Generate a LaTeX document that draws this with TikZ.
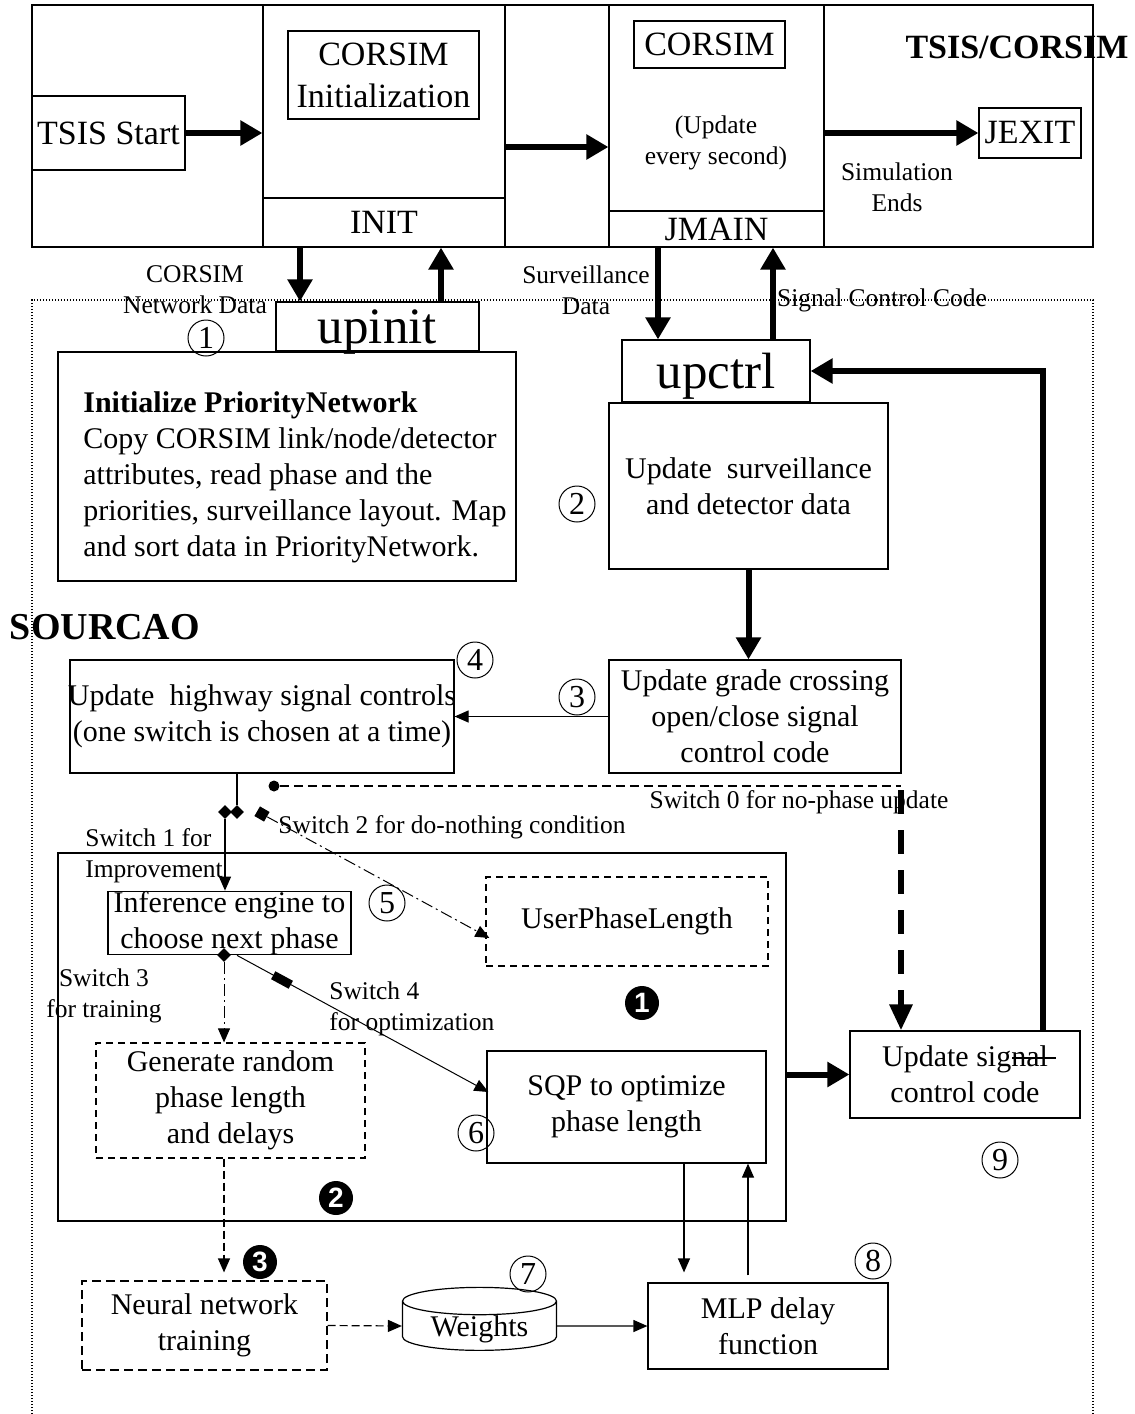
\documentclass[tikz,border=0pt]{standalone}
\usepackage{fontspec}
\setmainfont{Liberation Serif}
\setsansfont{Liberation Sans}
\usetikzlibrary{arrows.meta,shapes.geometric}
\newcommand{\hugetxt}{\fontsize{25.5}{28}\selectfont}
\newcommand{\bigtxt}{\fontsize{17}{21}\selectfont}
\newcommand{\bodytxt}{\fontsize{15}{18}\selectfont}
\newcommand{\smalltxt}{\fontsize{12.75}{15.5}\selectfont}
\begin{document}
\begin{tikzpicture}[x=0.5pt, y=-0.5pt,
  box/.style={draw, line width=0.6pt, inner sep=0pt, align=center},
  dbox/.style={box, dash pattern=on 3.5pt off 2.5pt},
  lbl/.style={inner sep=0pt, align=center, font=\smalltxt},
  numc/.style={circle, draw, line width=0.5pt, inner sep=0pt, minimum size=18pt, font=\fontsize{16}{16}\selectfont},
  numb/.style={circle, fill=black, text=white, inner sep=0pt, minimum size=17pt, font=\sffamily\bfseries\fontsize{14}{14}\selectfont},
  swmark/.style={diamond, fill=black, inner sep=0pt, minimum size=7pt},
  bigarrow/.style={line width=3pt, -{Triangle[length=11pt,width=12pt]}},
  thinarrow/.style={line width=0.6pt, -{Triangle[length=7pt,width=6pt]}},
  dasharrow/.style={thinarrow, dash pattern=on 4pt off 2pt},
  dotarrow/.style={line width=0.5pt, dash pattern=on 6pt off 2pt on 1pt off 2pt, -{Triangle[length=7pt,width=6pt]}}]
\useasboundingbox (0,0) rectangle (1135,1414);

\draw[line width=0.6pt, dash pattern=on 0.6pt off 0.9pt] (32,1414) -- (32,300) -- (1093,300) -- (1093,1414);

\node[box, minimum width=530.5pt, minimum height=121pt] (tsisframe) at (562.5,126) {};
\node[box, minimum width=121pt, minimum height=121pt] (initcol) at (384,126) {};
\node[box, minimum width=107.5pt, minimum height=121pt] (maincol) at (716.5,126) {};
\node[box, minimum width=121pt, minimum height=24.5pt, text depth=0pt, font=\bigtxt] (initbar) at (384,222.5) {INIT};
\node[box, minimum width=107.5pt, minimum height=18pt, text depth=0pt, font=\bigtxt] (jmain) at (716.5,229) {JMAIN};
\node[box, minimum width=76.5pt, minimum height=37pt, font=\bigtxt] (tsisstart) at (108.5,133) {TSIS Start};
\node[box, minimum width=95.5pt, minimum height=44pt, font=\bigtxt] (corsiminit) at (383.5,75) {CORSIM\\Initialization};
\node[box, minimum width=75.5pt, minimum height=23.5pt, font=\bigtxt] (corsimrun) at (709.5,44.5) {CORSIM};
\node[lbl] (everysec) at (716,143) {(Update\\every second)};
\node[box, minimum width=51pt, minimum height=25pt, font=\bigtxt] (jexit) at (1030,133) {JEXIT};
\node[lbl] (simends) at (897,187) {Simulation\\Ends};
\node[inner sep=0pt, font=\bigtxt\bfseries] (tsistitle) at (1017,47) {TSIS/CORSIM};

\draw[bigarrow] (tsisstart.east) -- (tsisstart.east -| initcol.west);
\draw[bigarrow] ([yshift=-10.5pt]initcol.east) -- ([yshift=-10.5pt]maincol.west);
\draw[bigarrow] (jexit.west -| maincol.east) -- (jexit.west);

\node[box, minimum width=101.5pt, minimum height=24.5pt, text depth=0pt, font=\hugetxt] (upinit) at (377.5,326.5) {upinit};
\node[box, minimum width=94pt, minimum height=31pt, text depth=0pt, font=\hugetxt] (upctrl) at (716,371) {upctrl};

\draw[bigarrow] ([xshift=-42pt]initbar.south) -- ([xshift=-38.75pt]upinit.north);
\draw[bigarrow] ([xshift=31.75pt]upinit.north) -- ([xshift=28.5pt]initbar.south);
\draw[bigarrow] ([xshift=-29.25pt]jmain.south) -- ([xshift=-29pt]upctrl.north);
\draw[bigarrow] ([xshift=28.5pt]upctrl.north) -- ([xshift=28.25pt]jmain.south);

\node[lbl] (netdata) at (195,290) {CORSIM\\Network Data};
\node[lbl] (survdata) at (586,290) {Surveillance\\Data};
\node[lbl] (sigcode) at (882,300) {Signal Control Code};

\node[box, minimum width=229pt, minimum height=114.5pt] (initbox) at (287,466.5) {};
\node[inner sep=0pt, align=left, font=\bodytxt] (inittxt) at (295,477) {\textbf{Initialize PriorityNetwork}\\Copy CORSIM link/node/detector\\attributes, read phase and the\\priorities, surveillance layout. Map\\and sort data in PriorityNetwork.};
\node[box, minimum width=139.5pt, minimum height=83pt, font=\bodytxt] (survbox) at (748.5,486) {Update\ \ surveillance\\and detector data};
\node[box, minimum width=146pt, minimum height=56.5pt, font=\bodytxt] (gradebox) at (755,716.5) {Update grade crossing\\open/close signal\\control code};
\node[box, minimum width=192pt, minimum height=56.5pt, inner xsep=-2pt, font=\bodytxt] (highway) at (262,716.5) {Update\ \ highway signal controls\\(one switch is chosen at a time)};
\node[inner sep=0pt, font=\fontsize{19}{22}\selectfont\bfseries] (sourcao) at (105,627) {SOURCAO};

\draw[bigarrow] (survbox.south) -- (survbox.south |- gradebox.north);
\draw[thinarrow] (gradebox.west) -- (gradebox.west -| highway.east);

\node[box, minimum width=364pt, minimum height=184pt] (optframe) at (422,1037) {};
\node[box, minimum width=121.5pt, minimum height=31pt, font=\bodytxt] (infer) at (229.5,923) {Inference engine to\\choose next phase};
\node[dbox, minimum width=141pt, minimum height=44.5pt, font=\bodytxt] (userbox) at (627,921.5) {UserPhaseLength};
\node[dbox, minimum width=134.5pt, minimum height=57.5pt, font=\bodytxt] (genbox) at (230.5,1100.5) {Generate random\\phase length\\and delays};
\node[box, minimum width=139.5pt, minimum height=56pt, font=\bodytxt] (sqp) at (626.5,1107) {SQP to optimize\\phase length};
\node[box, minimum width=115pt, minimum height=43.5pt, font=\bodytxt] (updsig) at (965,1074.5) {Update signal\\control code};
\node[box, minimum width=120pt, minimum height=43pt, font=\bodytxt] (mlp) at (768,1326) {MLP delay\\function};
\node[box, dash pattern=on 4.5pt off 2.5pt, minimum width=122.5pt, minimum height=44.5pt, font=\bodytxt] (neural) at (204.5,1325.5) {Neural network\\training};
\node[cylinder, shape border rotate=90, aspect=0.28, draw, line width=0.6pt, inner sep=0pt, text depth=0pt, minimum width=77pt, minimum height=31.5pt, font=\bodytxt] (weights) at (479.5,1326) {Weights};
\draw[line width=0.6pt] (1012,1058) -- (1056,1058);

\node[swmark] (swd1) at (225,812) {};
\node[swmark] (swd2) at (237,812) {};
\node[circle, fill=black, inner sep=0pt, minimum size=5.5pt] (sw0) at (274,786) {};
\node[swmark, minimum size=8pt, rotate=15] (sw2) at (262,814) {};
\node[swmark] (swd3) at (224,955) {};
\node[fill=black, inner sep=0pt, minimum width=10pt, minimum height=4.5pt, rotate=-28.5] (sw4) at (282,980) {};
\coordinate (sw0end) at ([xshift=-32pt]updsig.north);

\draw[line width=0.6pt] (highway.south -| swd2) -- (swd2);
\draw[thinarrow] (swd1) -- (swd1 |- infer.north);
\draw[line width=1pt, dash pattern=on 4.5pt off 2.5pt] (sw0) -- (sw0 -| sw0end);
\draw[line width=3pt, dash pattern=on 12pt off 8pt, -{Triangle[length=13pt,width=11pt]}] ([yshift=-2pt]sw0 -| sw0end) -- (sw0end);
\draw[dotarrow] (sw2) -- ([xshift=2pt,yshift=-8.25pt]userbox.west);
\draw[dotarrow] (swd3) -- (swd3 |- genbox.north);
\draw[thinarrow, line width=0.5pt] ([xshift=3.75pt]infer.south) -- ([xshift=1pt,yshift=7.5pt]sqp.west);

\node[lbl] (sw0lbl) at (799,802) {Switch 0 for no-phase update};
\node[lbl] (sw2lbl) at (452,827) {Switch 2 for do-nothing condition};
\node[lbl, anchor=west, align=left] (sw1lbl) at (85,856) {Switch 1 for\\Improvement};
\node[lbl] (sw3lbl) at (104,996) {Switch 3\\for training};
\node[lbl, anchor=west, align=left] (sw4lbl) at (329,1009) {Switch 4\\for optimization};

\draw[bigarrow] (updsig.west -| optframe.east) -- (updsig.west);
\draw[bigarrow] ([xshift=39pt]updsig.north) |- (upctrl.east);

\coordinate (sqpout) at ([xshift=28.75pt]sqp.south);
\coordinate (mlpout) at ([xshift=-10pt]mlp.north);
\draw[thinarrow, shorten >=5pt] (sqpout) -- (sqpout |- mlp.north);
\draw[thinarrow, shorten <=3.5pt] (mlpout) -- (mlpout |- sqp.south);
\draw[dasharrow, shorten >=4pt] (genbox.south -| swd3) -- (neural.north -| swd3);
\draw[dasharrow] (neural.east) -- (weights.west);
\draw[thinarrow] (weights.east) -- (mlp.west);

\node[numc] (n1) at (206,338) {1};
\node[numc] (n2) at (577,504) {2};
\node[numc] (n3) at (577,697) {3};
\node[numc] (n4) at (475,660) {4};
\node[numc] (n5) at (387,903) {5};
\node[numc] (n6) at (476,1133) {6};
\node[numc] (n7) at (528,1274) {7};
\node[numc] (n8) at (873,1261) {8};
\node[numc] (n9) at (1000,1160) {9};
\node[numb] (b1) at (642,1003) {1};
\node[numb] (b2) at (336,1198) {2};
\node[numb] (b3) at (260,1262) {3};
\end{tikzpicture}
\end{document}
